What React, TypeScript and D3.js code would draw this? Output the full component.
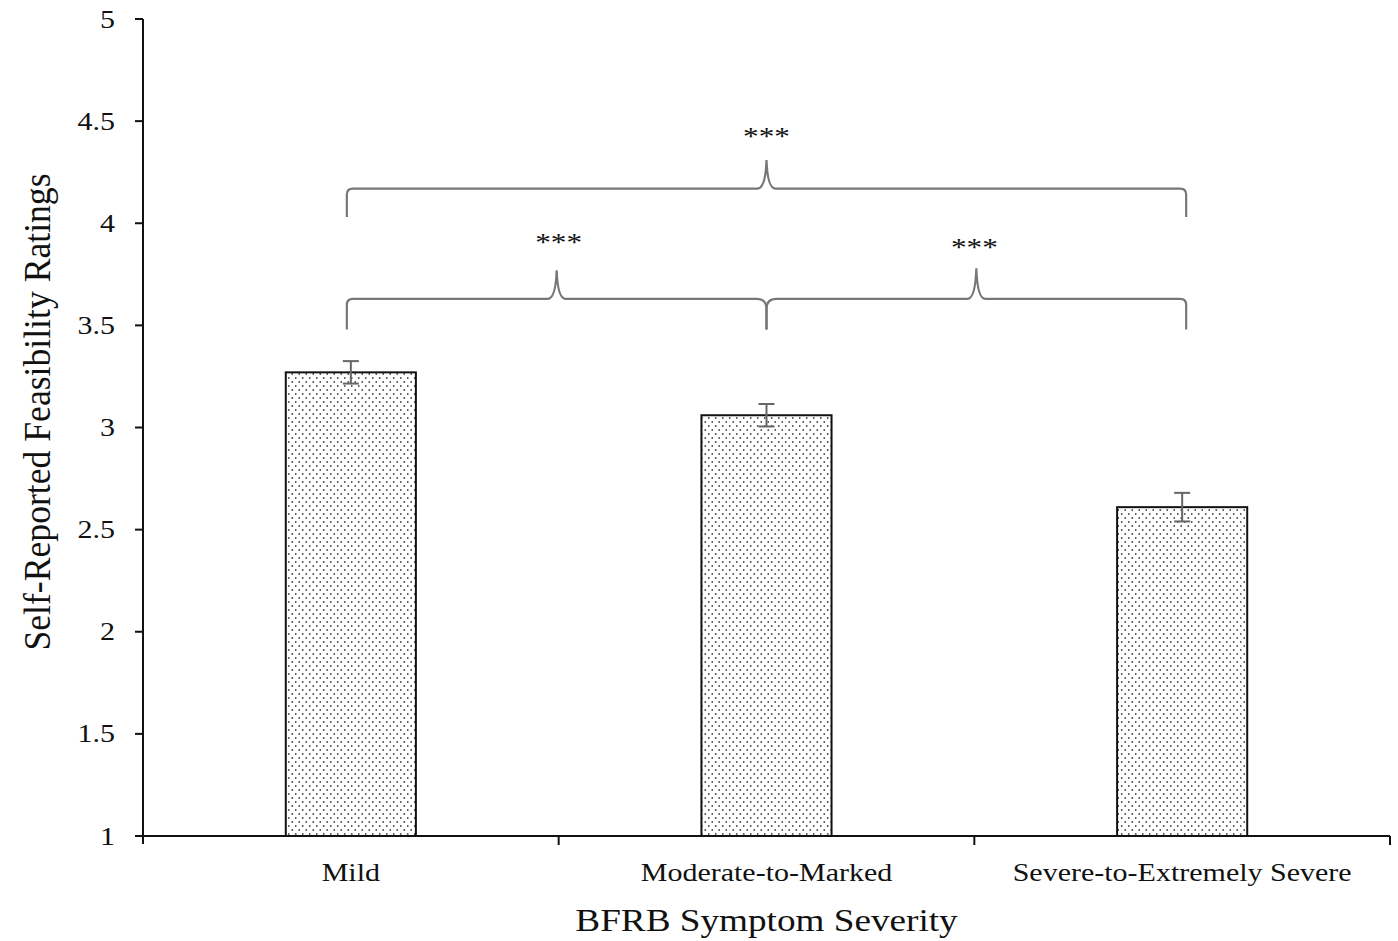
import * as d3 from 'd3';

const categories = ['Mild', 'Moderate-to-Marked', 'Severe-to-Extremely Severe'];
const means = [3.27, 3.06, 2.61];
const errors = [0.055, 0.055, 0.07];
const yTicks = [1, 1.5, 2, 2.5, 3, 3.5, 4, 4.5, 5];

// significance braces: from/to category index, bar level, end level, peak level
const braceFrom = [0, 0, 1];
const braceTo = [2, 1, 2];
const braceLevel = [4.17, 3.63, 3.63];
const braceEnd = [4.03, 3.48, 3.48];
const bracePeak = [4.31, 3.77, 3.78];
const braceLabel = ['***', '***', '***'];
const braceLabelLevel = [4.48, 3.96, 3.94];

const W = 1398;
const H = 941;
const M = { left: 143, right: 8, top: 19, bottom: 105 };
const STRETCH = 1.2;
const FONT = '"Liberation Serif", "Times New Roman", serif';

export default function App() {
  const x = d3.scaleBand<string>()
    .domain(categories)
    .range([M.left, W - M.right])
    .paddingInner(0)
    .paddingOuter(0);
  const y = d3.scaleLinear().domain([1, 5]).range([H - M.bottom, M.top]);
  const barW = x.bandwidth() * 0.313;
  const cx = (i: number) => (x(categories[i]) ?? 0) + x.bandwidth() / 2;
  const y0 = y(1);
  const last = categories.length - 1;

  const bracePath = (i: number) => {
    const f = braceFrom[i];
    const t = braceTo[i];
    const x1 = cx(f) - (f === 0 ? 4 : 0);
    const x2 = cx(t) + (t === last ? 4 : 0);
    const xm = (x1 + x2) / 2;
    const yH = y(braceLevel[i]);
    const yE = y(braceEnd[i]);
    const yP = y(bracePeak[i]);
    const r1 = f === 0 ? 6 : 10;
    const r2 = t === last ? 6 : 10;
    const w = 9;
    return [
      `M${x1},${yE}`,
      `L${x1},${yH + r1}`,
      `Q${x1},${yH} ${x1 + r1},${yH}`,
      `L${xm - w},${yH}`,
      `Q${xm - 1},${yH} ${xm},${yP}`,
      `Q${xm + 1},${yH} ${xm + w},${yH}`,
      `L${x2 - r2},${yH}`,
      `Q${x2},${yH} ${x2},${yH + r2}`,
      `L${x2},${yE}`,
    ].join(' ');
  };

  return (
    <svg width={W} height={H} style={{ position: 'absolute', left: 0, top: 0, background: '#fff' }} fontFamily={FONT}>
      <defs>
        <pattern id="dots" width={7} height={8} patternUnits="userSpaceOnUse">
          <rect width={7} height={8} fill="#fff" />
          <circle cx={1.75} cy={2} r={0.9} fill="#4a4a4a" />
          <circle cx={5.25} cy={6} r={0.9} fill="#4a4a4a" />
        </pattern>
      </defs>

      {/* bars */}
      {categories.map((c, i) => (
        <rect key={c} x={cx(i) - barW / 2} y={y(means[i])} width={barW} height={y0 - y(means[i])}
          fill="url(#dots)" stroke="#111" strokeWidth={2} />
      ))}

      {/* error bars */}
      {categories.map((c, i) => {
        const top = y(means[i] + errors[i]);
        const bot = y(means[i] - errors[i]);
        return (
          <g key={'e' + c} stroke="#666" strokeWidth={2}>
            <line x1={cx(i)} x2={cx(i)} y1={top} y2={bot} />
            <line x1={cx(i) - 8} x2={cx(i) + 8} y1={top} y2={top} />
            <line x1={cx(i) - 8} x2={cx(i) + 8} y1={bot} y2={bot} />
          </g>
        );
      })}

      {/* y axis */}
      <line x1={M.left} x2={M.left} y1={y(5)} y2={y0 + 8} stroke="#111" strokeWidth={2} />
      {yTicks.map(t => (
        <g key={t}>
          <line x1={M.left - 8} x2={M.left} y1={y(t)} y2={y(t)} stroke="#111" strokeWidth={2} />
          <text transform={`translate(${M.left - 28},${y(t)}) scale(${STRETCH},1)`} textAnchor="end"
            dominantBaseline="central" fontSize={25} fill="#111">{t}</text>
        </g>
      ))}

      {/* x axis */}
      <line x1={M.left} x2={W - M.right} y1={y0} y2={y0} stroke="#111" strokeWidth={2} />
      {categories.map(c => (
        <line key={'t' + c} x1={(x(c) ?? 0) + x.bandwidth()} x2={(x(c) ?? 0) + x.bandwidth()}
          y1={y0} y2={y0 + 9} stroke="#111" strokeWidth={2} />
      ))}
      {categories.map((c, i) => (
        <text key={'l' + c} transform={`translate(${cx(i)},${y0 + 45}) scale(${STRETCH},1)`}
          textAnchor="middle" fontSize={25} fill="#111">{c}</text>
      ))}

      {/* axis titles */}
      <text transform={`translate(${(M.left + W - M.right) / 2},${H - 10}) scale(${STRETCH},1)`}
        textAnchor="middle" fontSize={31} fill="#111">BFRB Symptom Severity</text>
      <text transform={`translate(38,412) rotate(-90) scale(1.15,${STRETCH})`}
        textAnchor="middle" dominantBaseline="central" fontSize={31} fill="#111">Self-Reported Feasibility Ratings</text>

      {/* significance braces */}
      {braceFrom.map((_, i) => (
        <g key={'b' + i}>
          <path d={bracePath(i)} fill="none" stroke="#777" strokeWidth={2.2} />
          <text transform={`translate(${(cx(braceFrom[i]) + cx(braceTo[i])) / 2},${y(braceLabelLevel[i]) + 20}) scale(${STRETCH},1)`}
            textAnchor="middle" fontSize={26} fill="#111">{braceLabel[i]}</text>
        </g>
      ))}
    </svg>
  );
}
